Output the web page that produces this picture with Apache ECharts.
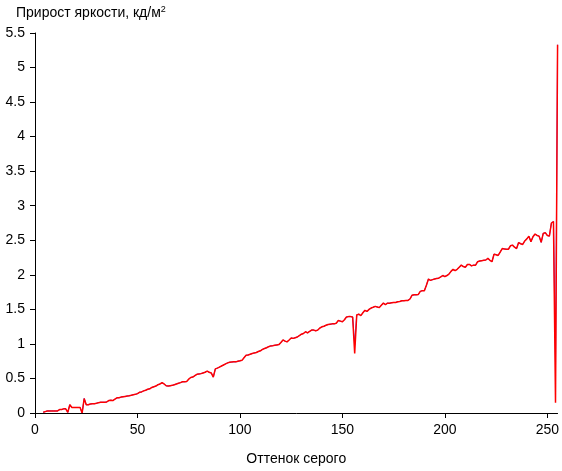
<!DOCTYPE html>
<html>
<head>
<meta charset="utf-8">
<script src="https://cdn.jsdelivr.net/npm/echarts@6/dist/echarts.min.js"></script>
<style>html,body{margin:0;padding:0;background:#fff}#c{width:562px;height:471px}</style>
</head>
<body>
<div id="c"></div>
<script>
// Gray levels with data (starting at 4)
const startX = 4;
// Red series values for gray levels 4..255
const redValues = [
  0.01,0.02,0.03,0.03,0.03,0.03,0.03,0.03,0.05,0.05,0.06,0.06,        // 4-15
  0.01,0.12,0.08,0.08,0.08,0.08,0.08,0.0,0.21,0.12,                   // 16-25
  0.12,0.13,0.135,0.135,0.14,0.15,0.155,0.155,0.155,0.16,             // 26-35
  0.18,0.185,0.18,0.2,0.22,0.22,0.23,0.235,0.24,0.245,                // 36-45
  0.25,0.257,0.265,0.27,0.28,0.3,0.305,0.32,0.33,0.343,               // 46-55
  0.35,0.37,0.38,0.39,0.41,0.42,0.438,0.42,0.395,0.39,                // 56-65
  0.395,0.4,0.41,0.42,0.43,0.44,0.452,0.452,0.455,0.49,               // 66-75
  0.514,0.52,0.54,0.56,0.565,0.57,0.58,0.59,0.605,0.59,               // 76-85
  0.58,0.52,0.638,0.65,0.665,0.68,0.695,0.71,0.725,0.735,             // 86-95
  0.738,0.74,0.74,0.75,0.755,0.762,0.8,0.835,0.84,0.85,               // 96-105
  0.86,0.87,0.876,0.89,0.9,0.92,0.933,0.945,0.96,0.971,               // 106-115
  0.975,0.98,0.985,0.99,1.02,1.057,1.04,1.03,1.057,1.086,             // 116-125
  1.08,1.09,1.1,1.12,1.14,1.15,1.176,1.16,1.18,1.2,                   // 126-135
  1.2,1.19,1.2,1.23,1.247,1.255,1.27,1.28,1.285,1.29,                 // 136-145
  1.29,1.3,1.338,1.33,1.32,1.35,1.39,1.395,1.395,1.39,                // 146-155
  0.86,1.42,1.43,1.41,1.45,1.486,1.47,1.5,1.519,1.53,                 // 156-165
  1.543,1.535,1.525,1.56,1.59,1.57,1.59,1.59,1.595,1.6,               // 166-175
  1.6,1.61,1.615,1.624,1.625,1.629,1.629,1.65,1.705,1.71,             // 176-185
  1.71,1.714,1.76,1.771,1.771,1.85,1.938,1.92,1.93,1.94,              // 186-195
  1.948,1.952,1.97,1.99,1.975,1.99,2.01,2.05,2.08,2.06,               // 196-205
  2.08,2.11,2.14,2.12,2.11,2.15,2.15,2.13,2.14,2.14,                  // 206-215
  2.19,2.2,2.205,2.21,2.214,2.238,2.21,2.19,2.3,2.29,                 // 216-225
  2.28,2.33,2.38,2.375,2.37,2.37,2.42,2.43,2.4,2.38,                  // 226-235
  2.467,2.45,2.44,2.49,2.52,2.557,2.48,2.55,2.59,2.57,                // 236-245
  2.56,2.47,2.6,2.61,2.57,2.56,2.75,2.77,0.15,5.33                    // 246-255
];
// Blue series values (differs from red only at a few gray levels)
const blueDiff = { 156: 0.99, 254: 0.71 };

const xTicksInterval = 50;
const yTicksInterval = 0.5;

const redData = redValues.map((v, i) => [startX + i, v]);
const blueData = redValues.map((v, i) => {
  const x = startX + i;
  return [x, blueDiff[x] !== undefined ? blueDiff[x] : v];
});

const chart = echarts.init(document.getElementById('c'), null, {renderer: 'canvas'});
const font = 'Liberation Sans, Arial, sans-serif';
chart.setOption({
  animation: false,
  backgroundColor: '#fff',
  title: {
    text: '{a|Прирост яркости, кд/м}{s|2}',
    left: 11, top: 0,
    textStyle: {
      rich: {
        a: {fontFamily: font, fontSize: 14, color: '#000', fontWeight: 'normal'},
        s: {fontFamily: font, fontSize: 9, color: '#000', fontWeight: 'normal', verticalAlign: 'top', padding: [0,0,7,0]}
      }
    }
  },
  grid: {left: 35, right: 3, top: 33, bottom: 53},
  xAxis: {
    type: 'value', min: 0, max: 255, interval: xTicksInterval,
    name: 'Оттенок серого', nameLocation: 'middle', nameGap: 39,
    nameTextStyle: {fontFamily: font, fontSize: 14, color: '#000'},
    axisLine: {lineStyle: {color: '#000', width: 1}},
    axisTick: {show: true, length: 5, lineStyle: {color: '#000'}},
    axisLabel: {fontFamily: font, fontSize: 14, color: '#000', margin: 10, showMaxLabel: false},
    splitLine: {show: false}
  },
  yAxis: {
    type: 'value', min: 0, max: 5.5, interval: yTicksInterval,
    axisLine: {show: true, lineStyle: {color: '#000', width: 1}},
    axisTick: {show: true, length: 5, lineStyle: {color: '#000'}},
    axisLabel: {fontFamily: font, fontSize: 14, color: '#000', margin: 10},
    splitLine: {show: false}
  },
  series: [
    {type: 'line', data: blueData, showSymbol: false, lineStyle: {color: '#0000ff', width: 0.8}, z: 2},
    {type: 'line', data: redData, showSymbol: false, lineStyle: {color: '#ff0000', width: 1.5}, z: 3}
  ]
});
</script>
</body>
</html>
